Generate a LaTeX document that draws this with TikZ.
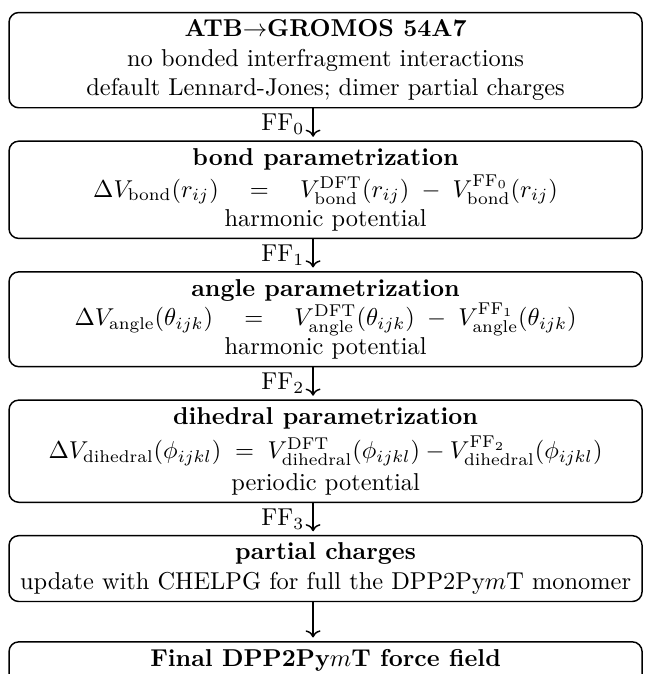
\documentclass[tikz,border=0pt]{standalone}
\usepackage{amsmath,amssymb}
\usepackage{tikz}
\usetikzlibrary{arrows.meta,positioning}

\begin{document}
\begin{tikzpicture}[
    node distance=0.46cm,
    stage/.style={rectangle, draw, rounded corners=4pt, line width=0.6pt, minimum width=9.12cm, align=center, inner sep=3pt},
    flow/.style={->, line width=0.6pt, shorten >=1.5pt}
]
    \useasboundingbox (0,0) rectangle (9.28,-9.71);

    % Stages
    \node[stage, below] (S0) at (4.69,-0.17) {\textbf{ATB$\rightarrow$GROMOS 54A7}\\
        no bonded interfragment interactions\\
        default Lennard-Jones; dimer partial charges};
    \node[stage, below=of S0] (S1) {\textbf{bond parametrization}\\[1pt]
        $\Delta V_{\text{bond}}(r_{ij})\quad=\quad V^{\text{DFT}}_{\text{bond}}(r_{ij})\;-\;V^{\text{FF}_0}_{\text{bond}}(r_{ij})$\\
        harmonic potential};
    \node[stage, below=of S1] (S2) {\textbf{angle parametrization}\\
        $\Delta V_{\text{angle}}(\theta_{ijk})\quad=\quad V^{\text{DFT}}_{\text{angle}}(\theta_{ijk})\;-\;V^{\text{FF}_1}_{\text{angle}}(\theta_{ijk})$\\
        harmonic potential};
    \node[stage, below=of S2] (S3) {\textbf{dihedral parametrization}\\[2pt]
        $\Delta V_{\text{dihedral}}(\phi_{ijkl})\;=\;V^{\text{DFT}}_{\text{dihedral}}(\phi_{ijkl})-V^{\text{FF}_2}_{\text{dihedral}}(\phi_{ijkl})$\\[1pt]
        periodic potential};
    \node[stage, below=of S3] (S4) {\textbf{partial charges}\\
        update with CHELPG for full the DPP2Py$m$T monomer};
    \node[stage, below=0.56cm of S4] (S5) {\textbf{Final DPP2Py$m$T force field}\\[2pt]
        \phantom{x}};

    % Flow between stages
    \draw[flow] ([xshift=-0.18cm]S0.south) -- node[left] (ff0) {FF$_0$} ([xshift=-0.18cm]S1.north);
    \draw[flow] ([xshift=-0.18cm]S1.south) -- node[left] (ff1) {FF$_1$} ([xshift=-0.18cm]S2.north);
    \draw[flow] ([xshift=-0.18cm]S2.south) -- node[left] (ff2) {FF$_2$} ([xshift=-0.18cm]S3.north);
    \draw[flow] ([xshift=-0.18cm]S3.south) -- node[left] (ff3) {FF$_3$} ([xshift=-0.18cm]S4.north);
    \draw[flow] ([xshift=-0.18cm]S4.south) -- ([xshift=-0.18cm]S5.north);

\end{tikzpicture}
\end{document}
